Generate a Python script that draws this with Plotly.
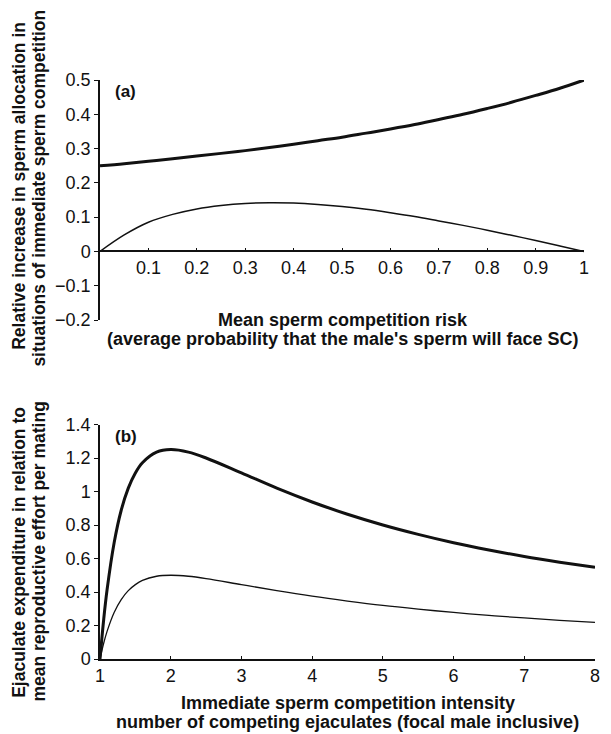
import plotly.graph_objects as go

# Panel (a): mean sperm competition risk
risk = [0.0, 0.05, 0.1, 0.15, 0.2, 0.25, 0.3, 0.35, 0.4, 0.45, 0.5, 0.55, 0.6, 0.65, 0.7, 0.75, 0.8, 0.85, 0.9, 0.95, 1.0]
a_thick = [0.25, 0.256, 0.263, 0.270, 0.278, 0.286, 0.294, 0.303, 0.3125, 0.323, 0.333, 0.345, 0.357, 0.370, 0.385, 0.400, 0.417, 0.435, 0.455, 0.476, 0.5]
a_thin = [0.0, 0.048, 0.085, 0.108, 0.124, 0.134, 0.140, 0.142, 0.141, 0.137, 0.131, 0.123, 0.113, 0.102, 0.089, 0.076, 0.062, 0.047, 0.032, 0.016, 0.0]

# Panel (b): immediate sperm competition intensity
n_ejac = [1.0, 1.05, 1.1, 1.2, 1.3, 1.4, 1.5, 1.6, 1.8, 2.0, 2.25, 2.5, 3.0, 3.5, 4.0, 4.5, 5.0, 5.5, 6.0, 6.5, 7.0, 7.5, 8.0]
b_thick = [0.0, 0.227, 0.413, 0.694, 0.888, 1.020, 1.111, 1.172, 1.235, 1.25, 1.235, 1.2, 1.111, 1.020, 0.9375, 0.864, 0.8, 0.744, 0.694, 0.651, 0.612, 0.578, 0.547]
b_thin = [0.0, 0.091, 0.165, 0.278, 0.355, 0.408, 0.444, 0.469, 0.494, 0.5, 0.494, 0.48, 0.444, 0.408, 0.375, 0.346, 0.32, 0.298, 0.278, 0.260, 0.245, 0.231, 0.219]

a_yticks = [-0.2, -0.1, 0, 0.1, 0.2, 0.3, 0.4, 0.5]
a_ytext = ["\u22120.2", "\u22120.1", "0", "0.1", "0.2", "0.3", "0.4", "0.5"]
a_xticks = [0.1, 0.2, 0.3, 0.4, 0.5, 0.6, 0.7, 0.8, 0.9, 1]
a_xtext = ["0.1", "0.2", "0.3", "0.4", "0.5", "0.6", "0.7", "0.8", "0.9", "1"]
b_yticks = [0, 0.2, 0.4, 0.6, 0.8, 1, 1.2, 1.4]
b_ytext = ["0", "0.2", "0.4", "0.6", "0.8", "1", "1.2", "1.4"]
b_xticks = [1, 2, 3, 4, 5, 6, 7, 8]

# page body has an 8px margin; work in window pixels and subtract it
OFF = 8
W, H = 611 - OFF, 734 - OFF
L = 100 - OFF
T = 80 - OFF
PLOT_BOTTOM = 659 - OFF
RIGHT_EDGE = 600 - OFF
B = H - PLOT_BOTTOM
R = W - RIGHT_EDGE
PW, PH = W - L - R, H - T - B

def px(x):
    return (x - OFF - L) / PW

def py(y):
    return (PLOT_BOTTOM - (y - OFF)) / PH

top_dom = [py(320), 1.0]
bot_dom = [0.0, py(424.5)]
a_zero_pos = top_dom[0] + (0.2 / 0.7) * (top_dom[1] - top_dom[0])

FONT = "Liberation Sans, Arial, sans-serif"
INK = "#111111"

fig = go.Figure()
fig.add_trace(go.Scatter(x=risk, y=a_thick, mode="lines", line=dict(color=INK, width=3, shape="spline"),
                         xaxis="x", yaxis="y", showlegend=False, hoverinfo="skip"))
fig.add_trace(go.Scatter(x=risk, y=a_thin, mode="lines", line=dict(color=INK, width=1.5, shape="spline"),
                         xaxis="x", yaxis="y", showlegend=False, hoverinfo="skip"))
fig.add_trace(go.Scatter(x=n_ejac, y=b_thick, mode="lines", line=dict(color=INK, width=3, shape="spline"),
                         xaxis="x2", yaxis="y2", showlegend=False, hoverinfo="skip"))
fig.add_trace(go.Scatter(x=n_ejac, y=b_thin, mode="lines", line=dict(color=INK, width=1.3, shape="spline"),
                         xaxis="x2", yaxis="y2", showlegend=False, hoverinfo="skip"))

tickfont = dict(family=FONT, size=18, color=INK)

fig.update_layout(
    width=W, height=H,
    margin=dict(l=L, r=R, t=T, b=B),
    paper_bgcolor="white", plot_bgcolor="white",
    xaxis=dict(domain=[0, px(589)], range=[0, 1], anchor="free", position=a_zero_pos,
               tickvals=a_xticks, ticktext=a_xtext, ticks="inside", ticklen=3, tickwidth=1, tickcolor=INK,
               showline=True, linecolor=INK, linewidth=1.5, showgrid=False, zeroline=False,
               tickfont=tickfont),
    yaxis=dict(domain=top_dom, range=[-0.2, 0.5], anchor="x",
               tickvals=a_yticks, ticktext=a_ytext, ticks="outside", ticklen=4, tickwidth=1, tickcolor=INK,
               showline=True, linecolor=INK, linewidth=1.5, showgrid=False, zeroline=False,
               tickfont=tickfont),
    xaxis2=dict(domain=[0, 1], range=[1, 8], anchor="y2",
                tickvals=b_xticks, ticks="inside", ticklen=3, tickwidth=1, tickcolor=INK,
                showline=True, linecolor=INK, linewidth=1.5, showgrid=False, zeroline=False,
                tickfont=tickfont),
    yaxis2=dict(domain=bot_dom, range=[0, 1.4], anchor="x2",
                tickvals=b_yticks, ticktext=b_ytext, ticks="outside", ticklen=4, tickwidth=1, tickcolor=INK,
                showline=True, linecolor=INK, linewidth=1.5, showgrid=False, zeroline=False,
                tickfont=tickfont),
)

def ann(text, x, y, angle=0, size=18):
    fig.add_annotation(text=text, x=px(x), y=py(y), xref="paper", yref="paper",
                       showarrow=False, textangle=angle, xanchor="center", yanchor="middle",
                       font=dict(family=FONT, size=size, color=INK))

ann("<b>Mean sperm competition risk</b>", 345, 320)
ann("<b>(average probability that the male's sperm will face SC)</b>", 345, 339)
ann("<b>Immediate sperm competition intensity</b>", 350, 703)
ann("<b>number of competing ejaculates (focal male inclusive)</b>", 350, 722)
ann("<b>Relative increase in sperm allocation in</b>", 18, 186, angle=-90, size=17.5)
ann("<b>situations of immediate sperm competition</b>", 38, 188, angle=-90, size=17.5)
ann("<b>Ejaculate expenditure in relation to</b>", 18, 552, angle=-90, size=17.5)
ann("<b>mean reproductive effort per mating</b>", 38, 552, angle=-90, size=17.5)
ann("<b>(a)</b>", 126, 92, size=17)
ann("<b>(b)</b>", 126, 436, size=17)

fig.write_html("out.html")
